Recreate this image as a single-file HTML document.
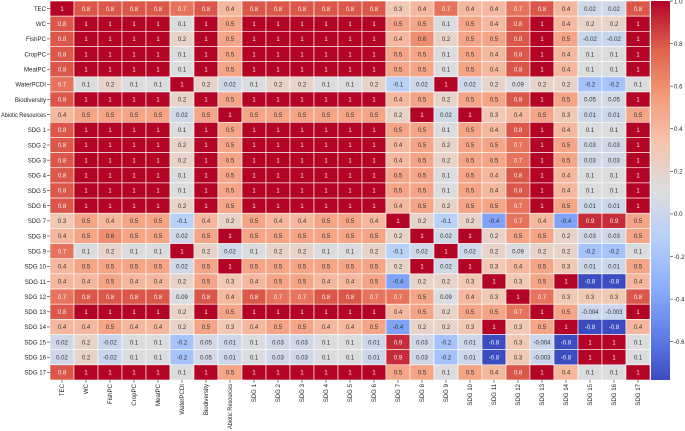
<!DOCTYPE html>
<html><head><meta charset="utf-8"><style>
body{margin:0;background:#fff;}
svg{display:block;font-family:"Liberation Sans","DejaVu Sans",sans-serif;}
</style></head><body>
<svg id="chart" width="685" height="431"></svg>
<script>
const labels=["TEC","WC","FishPC","CropPC","MeatPC","WaterPCDI","Biodiversity","Abiotic Resources","SDG 1","SDG 2","SDG 3","SDG 4","SDG 5","SDG 6","SDG 7","SDG 8","SDG 9","SDG 10","SDG 11","SDG 12","SDG 13","SDG 14","SDG 15","SDG 16","SDG 17"];
const rowTEC=[1,.8,.8,.8,.8,.7,.8,.4,.8,.8,.8,.8,.8,.8,.3,.4,.7,.4,.4,.7,.8,.4,.02,.02,.8];
const rowWC=[.8,1,1,1,1,.1,1,.5,1,1,1,1,1,1,.5,.5,.1,.5,.4,.8,1,.4,.2,.2,1];
const rowFishPC=[.8,1,1,1,1,.2,1,.5,1,1,1,1,1,1,.4,.6,.2,.5,.5,.8,1,.5,-.02,-.02,1];
const rowCropPC=[.8,1,1,1,1,.1,1,.5,1,1,1,1,1,1,.5,.5,.1,.5,.4,.8,1,.4,.1,.1,1];
const rowMeatPC=[.8,1,1,1,1,.1,1,.5,1,1,1,1,1,1,.5,.5,.1,.5,.4,.8,1,.4,.1,.1,1];
const rowWater=[.7,.1,.2,.1,.1,1,.2,.02,.1,.2,.2,.1,.1,.2,-.1,.02,1,.02,.2,.09,.2,.2,-.2,-.2,.1];
const rowBio=[.8,1,1,1,1,.2,1,.5,1,1,1,1,1,1,.4,.5,.2,.5,.5,.8,1,.5,.05,.05,1];
const rowAbiotic=[.4,.5,.5,.5,.5,.02,.5,1,.5,.5,.5,.5,.5,.5,.2,1,.02,1,.3,.4,.5,.3,.01,.01,.5];
const rowSDG1=[.8,1,1,1,1,.1,1,.5,1,1,1,1,1,1,.5,.5,.1,.5,.4,.8,1,.4,.1,.1,1];
const rowSDG2=[.8,1,1,1,1,.2,1,.5,1,1,1,1,1,1,.4,.5,.2,.5,.5,.7,1,.5,.03,.03,1];
const rowSDG3=[.8,1,1,1,1,.2,1,.5,1,1,1,1,1,1,.4,.5,.2,.5,.5,.7,1,.5,.03,.03,1];
const rowSDG4=[.8,1,1,1,1,.1,1,.5,1,1,1,1,1,1,.5,.5,.1,.5,.4,.8,1,.4,.1,.1,1];
const rowSDG5=[.8,1,1,1,1,.1,1,.5,1,1,1,1,1,1,.5,.5,.1,.5,.4,.8,1,.4,.1,.1,1];
const rowSDG6=[.8,1,1,1,1,.2,1,.5,1,1,1,1,1,1,.4,.5,.2,.5,.5,.7,1,.5,.01,.01,1];
const rowSDG7=[.3,.5,.4,.5,.5,-.1,.4,.2,.5,.4,.4,.5,.5,.4,1,.2,-.1,.2,-.4,.7,.4,-.4,.9,.9,.5];
const rowSDG8=[.4,.5,.6,.5,.5,.02,.5,1,.5,.5,.5,.5,.5,.5,.2,1,.02,1,.2,.5,.5,.2,.03,.03,.5];
const rowSDG9=[.7,.1,.2,.1,.1,1,.2,.02,.1,.2,.2,.1,.1,.2,-.1,.02,1,.02,.2,.09,.2,.2,-.2,-.2,.1];
const rowSDG10=[.4,.5,.5,.5,.5,.02,.5,1,.5,.5,.5,.5,.5,.5,.2,1,.02,1,.3,.4,.5,.3,.01,.01,.5];
const rowSDG11=[.4,.4,.5,.4,.4,.2,.5,.3,.4,.5,.5,.4,.4,.5,-.4,.2,.2,.3,1,.3,.5,1,-.8,-.8,.4];
const rowSDG12=[.7,.8,.8,.8,.8,.09,.8,.4,.8,.7,.7,.8,.8,.7,.7,.5,.09,.4,.3,1,.7,.3,.3,.3,.8];
const rowSDG13=[.8,1,1,1,1,.2,1,.5,1,1,1,1,1,1,.4,.5,.2,.5,.5,.7,1,.5,-.004,-.003,1];
const rowSDG14=[.4,.4,.5,.4,.4,.2,.5,.3,.4,.5,.5,.4,.4,.5,-.4,.2,.2,.3,1,.3,.5,1,-.8,-.8,.4];
const rowSDG15=[.02,.2,-.02,.1,.1,-.2,.05,.01,.1,.03,.03,.1,.1,.01,.9,.03,-.2,.01,-.8,.3,-.004,-.8,1,1,.1];
const rowSDG16=[.02,.2,-.02,.1,.1,-.2,.05,.01,.1,.03,.03,.1,.1,.01,.9,.03,-.2,.01,-.8,.3,-.003,-.8,1,1,.1];
const rowSDG17=[.8,1,1,1,1,.1,1,.5,1,1,1,1,1,1,.5,.5,.1,.5,.4,.8,1,.4,.1,.1,1];
const matrix=[rowTEC,rowWC,rowFishPC,rowCropPC,rowMeatPC,rowWater,rowBio,rowAbiotic,rowSDG1,rowSDG2,rowSDG3,rowSDG4,rowSDG5,rowSDG6,rowSDG7,rowSDG8,rowSDG9,rowSDG10,rowSDG11,rowSDG12,rowSDG13,rowSDG14,rowSDG15,rowSDG16,rowSDG17];
const cbTicks=[1.0,0.8,0.6,0.4,0.2,0.0,-0.2,-0.4,-0.6];
const vmin=-0.78, vmax=1;

const L=50,T=1,CW=24,RH=15.16;
const n=labels.length;
const xPos=i=>L+i*CW, yPos=i=>T+i*RH;
const cmap=[[59,76,192],[98,130,234],[141,176,254],[184,208,249],[221,221,221],[245,196,173],[244,154,123],[222,96,77],[180,4,38]];
function color(v){let t=(v-vmin)/(vmax-vmin);t=Math.max(0,Math.min(1,t));const s=t*8,i=Math.min(7,Math.floor(s)),f=s-i;const a=cmap[i],b=cmap[i+1];const c=a.map((x,k)=>Math.round(x+(b[k]-x)*f));return c;}
const NS="http://www.w3.org/2000/svg";
const svg=document.getElementById('chart');
function mk(tag,attrs,parent){const e=document.createElementNS(NS,tag);for(const k in attrs)e.setAttribute(k,attrs[k]);(parent||svg).appendChild(e);return e;}
const g=mk('g',{});


for(let r=0;r<n;r++){for(let c=0;c<n;c++){
  const v=matrix[r][c];const col=color(v);
  const rect=mk('rect',{x:xPos(c),y:yPos(r),width:CW,height:RH,fill:`rgb(${col})`,stroke:'#fff','stroke-width':0.6},g);
  
  
  const lum=0.2126*col[0]+0.7152*col[1]+0.0722*col[2];
  const t=mk('text',{x:xPos(c)+CW/2,y:yPos(r)+RH/2+2.2,'text-anchor':'middle','font-size':6,fill:lum>140?'#333':'#f4f4f4'},g);
  t.textContent=String(v);
  
  
}}
for(let i=0;i<n;i++){
  const long=labels[i].length>12;
  const t=mk('text',{x:L-4,y:yPos(i)+RH/2+2.3,'text-anchor':'end','font-size':6.1,fill:'#222'});
  if(long){t.setAttribute('textLength',45);t.setAttribute('lengthAdjust','spacingAndGlyphs');}
  t.textContent=labels[i];
  
  
  mk('line',{x1:L-3,x2:L,y1:yPos(i)+RH/2,y2:yPos(i)+RH/2,stroke:'#333','stroke-width':0.6});
  const cx=xPos(i)+CW/2,by=T+n*RH;
  mk('line',{x1:cx,x2:cx,y1:by,y2:by+3,stroke:'#333','stroke-width':0.6});
  const xt=mk('text',{x:0,y:0,'text-anchor':'end','font-size':6.1,fill:'#222',transform:`translate(${cx+2.2},${by+4}) rotate(-90)`});
  if(long){xt.setAttribute('textLength',45);xt.setAttribute('lengthAdjust','spacingAndGlyphs');}
  xt.textContent=labels[i];
  
  
}
const CBX=651,CBW=19,CBT=1,CBB=T+n*RH;
const defs=mk('defs',{});
const grad=mk('linearGradient',{id:'cb',x1:0,y1:1,x2:0,y2:0},defs);
cmap.forEach((c,i)=>mk('stop',{offset:i/8,'stop-color':`rgb(${c})`},grad));
const cb=mk('rect',{x:CBX,y:CBT,width:CBW,height:CBB-CBT,fill:'url(#cb)'});


const cy=v=>CBB-(v-vmin)/(vmax-vmin)*(CBB-CBT);
cbTicks.forEach(v=>{const y=cy(v);
  mk('line',{x1:CBX+CBW,x2:CBX+CBW+3,y1:y,y2:y,stroke:'#333','stroke-width':0.6});
  const t=mk('text',{x:CBX+CBW+4,y:y+2.3,'font-size':6.1,fill:'#222'});
  t.textContent=v.toFixed(1);
  
  
});
</script>
</body></html>
